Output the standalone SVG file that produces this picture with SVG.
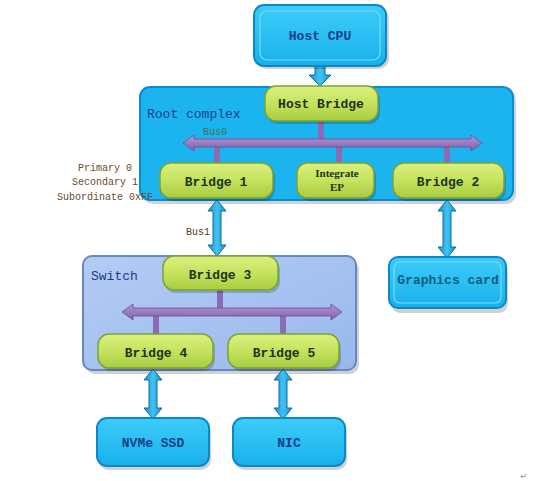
<svg xmlns="http://www.w3.org/2000/svg" width="557" height="481" viewBox="0 0 557 481">
<defs>
<linearGradient id="gGreen" x1="0" y1="0" x2="0" y2="1">
<stop offset="0" stop-color="#daf07e"/><stop offset="0.5" stop-color="#c6e25e"/><stop offset="1" stop-color="#a8cc40"/>
</linearGradient>
<linearGradient id="gCyan" x1="0" y1="0" x2="0" y2="1">
<stop offset="0" stop-color="#3cccf8"/><stop offset="1" stop-color="#18b0ec"/>
</linearGradient>
<linearGradient id="gSwitch" x1="0" y1="0" x2="1" y2="1">
<stop offset="0" stop-color="#b4ccf4"/><stop offset="1" stop-color="#98b8ec"/>
</linearGradient>
<linearGradient id="gArrow" x1="0" y1="0" x2="1" y2="0">
<stop offset="0" stop-color="#1a8ccc"/><stop offset="0.5" stop-color="#40c4f4"/><stop offset="1" stop-color="#1a8ccc"/>
</linearGradient>
<linearGradient id="gBus" x1="0" y1="0" x2="0" y2="1">
<stop offset="0" stop-color="#b898d8"/><stop offset="1" stop-color="#7e5ea8"/>
</linearGradient>
</defs>
<style>
.shadow{fill:#000;opacity:0.18}
.green{fill:url(#gGreen);stroke:#7ea232;stroke-width:1.5}
.blue{fill:url(#gCyan);stroke:#0c88c8;stroke-width:2}
.inner{fill:none;stroke:#78dcff;stroke-width:1.2}
.root{fill:#1cb4ee;stroke:#0a8cd0;stroke-width:2}
.switch{fill:url(#gSwitch);stroke:#6a86c0;stroke-width:2}
.arrow{fill:url(#gArrow);stroke:#106c9c;stroke-width:1}
.bus{fill:url(#gBus);stroke:#6a4e92;stroke-width:0.8}
.stub{fill:#8a6cb4}
.t{font-family:"Liberation Mono","DejaVu Sans Mono",monospace;font-size:13px;text-anchor:middle;font-weight:bold}
.tg{fill:#1c3418}
.tb{fill:#173f86}
.lbl{font-family:"Liberation Mono",monospace;font-size:13px;fill:#1a3c8c}
.reg{font-family:"Liberation Mono",monospace;font-size:10px;fill:#6a4a2a;text-anchor:middle}
</style>

<g id="root-complex">
<rect class="shadow" x="143" y="90" width="373" height="114" rx="10"/>
<rect class="root" x="140" y="87" width="373" height="113" rx="10"/>
<text class="lbl" x="147" y="118">Root complex</text>
</g>

<g id="switch">
<rect class="shadow" x="86" y="260" width="273" height="114" rx="9"/>
<rect class="switch" x="83" y="256" width="273" height="114" rx="9"/>
<text class="lbl" x="91" y="280">Switch</text>
</g>

<g id="connectors">
<polygon class="arrow" points="315,66 325,66 325,75 331,75 320,86 309,75 315,75"/>
<rect class="stub" x="318" y="121" width="6" height="19"/>
<rect class="stub" x="214" y="146" width="6" height="17"/>
<rect class="stub" x="336" y="146" width="6" height="17"/>
<rect class="stub" x="444" y="146" width="6" height="17"/>
<polygon class="bus" points="183,143 194,135 194,139 471,139 471,135 482,143 471,151 471,147 194,147 194,151"/>
<text x="203" y="135" font-family="Liberation Mono,monospace" font-size="10" fill="#4c6c54">Bus0</text>
<polygon class="arrow" points="217,200 226,211 221,211 221,245 226,245 217,256 208,245 213,245 213,211 208,211"/>
<text x="186" y="235" font-family="Liberation Mono,monospace" font-size="10" fill="#5a4020">Bus1</text>
<polygon class="arrow" points="447,200 456,211 451,211 451,247 456,247 447,258 438,247 443,247 443,211 438,211"/>
<rect class="stub" x="217" y="290" width="6" height="19"/>
<rect class="stub" x="153" y="315" width="6" height="19"/>
<rect class="stub" x="280" y="315" width="6" height="19"/>
<polygon class="bus" points="122,312 133,304 133,308 331,308 331,304 342,312 331,320 331,316 133,316 133,320"/>
<polygon class="arrow" points="153,369 162,380 157,380 157,408 162,408 153,419 144,408 149,408 149,380 144,380"/>
<polygon class="arrow" points="283,369 292,380 287,380 287,408 292,408 283,419 274,408 279,408 279,380 274,380"/>
</g>

<g id="host-cpu">
<rect class="shadow" x="257" y="8" width="132" height="61" rx="10"/>
<rect class="blue" x="254" y="5" width="132" height="61" rx="10"/>
<rect class="inner" x="260" y="11" width="120" height="49" rx="7"/>
<text class="t tb" x="320" y="40">Host CPU</text>
</g>

<g id="host-bridge">
<rect class="shadow" x="267" y="89" width="113" height="35" rx="11"/>
<rect class="green" x="265" y="86" width="113" height="35" rx="11"/>
<text class="t tg" x="321" y="108">Host Bridge</text>
</g>

<g id="bridge-1">
<rect class="shadow" x="162" y="166" width="113" height="35" rx="11"/>
<rect class="green" x="160" y="163" width="113" height="35" rx="11"/>
<text class="t tg" x="216" y="186">Bridge 1</text>
</g>

<g id="integrate-ep">
<rect class="shadow" x="299" y="166" width="77" height="35" rx="10"/>
<rect class="green" x="297" y="163" width="77" height="35" rx="10"/>
<text x="337" y="177" font-family="Liberation Serif,serif" font-size="11" font-weight="bold" text-anchor="middle" fill="#1c3418">Integrate</text>
<text x="337" y="191" font-family="Liberation Serif,serif" font-size="11" font-weight="bold" text-anchor="middle" fill="#1c3418">EP</text>
</g>

<g id="bridge-2">
<rect class="shadow" x="395" y="166" width="111" height="35" rx="11"/>
<rect class="green" x="393" y="163" width="111" height="35" rx="11"/>
<text class="t tg" x="448" y="186">Bridge 2</text>
</g>

<g id="registers">
<text class="reg" x="105" y="171">Primary 0</text>
<text class="reg" x="105" y="185">Secondary 1</text>
<text class="reg" x="105" y="200">Subordinate 0xFF</text>
</g>

<g id="graphics-card">
<rect class="shadow" x="391" y="261" width="117" height="52" rx="9"/>
<rect class="blue" x="389" y="257" width="117" height="51" rx="9"/>
<rect class="inner" x="394" y="262" width="107" height="41" rx="6"/>
<text class="t" x="448" y="284" fill="#0c5e80">Graphics card</text>
</g>

<g id="bridge-3">
<rect class="shadow" x="165" y="259" width="115" height="34" rx="11"/>
<rect class="green" x="163" y="256" width="115" height="34" rx="11"/>
<text class="t tg" x="220" y="279">Bridge 3</text>
</g>

<g id="bridge-4">
<rect class="shadow" x="100" y="337" width="115" height="34" rx="11"/>
<rect class="green" x="98" y="334" width="115" height="34" rx="11"/>
<text class="t tg" x="156" y="357">Bridge 4</text>
</g>

<g id="bridge-5">
<rect class="shadow" x="230" y="337" width="111" height="34" rx="11"/>
<rect class="green" x="228" y="334" width="111" height="34" rx="11"/>
<text class="t tg" x="284" y="357">Bridge 5</text>
</g>

<g id="nvme-ssd">
<rect class="shadow" x="99" y="422" width="112" height="48" rx="10"/>
<rect class="blue" x="97" y="418" width="112" height="48" rx="10"/>
<text class="t tb" x="153" y="447" font-size="12">NVMe SSD</text>
</g>

<g id="nic">
<rect class="shadow" x="235" y="422" width="112" height="48" rx="10"/>
<rect class="blue" x="233" y="418" width="112" height="48" rx="10"/>
<text class="t tb" x="289" y="447" font-size="12">NIC</text>
</g>

<text x="520" y="479" font-family="DejaVu Sans,sans-serif" font-size="9" fill="#999">↵</text>
</svg>
